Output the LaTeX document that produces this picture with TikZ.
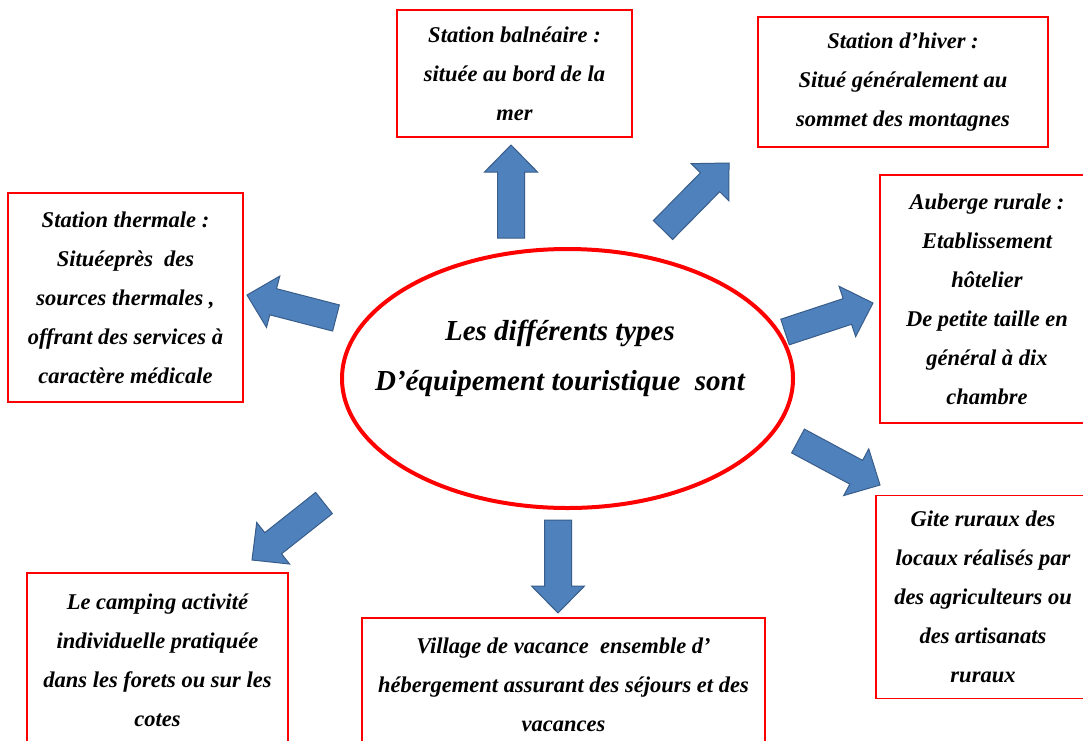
\documentclass[tikz,border=0pt]{standalone}
\usepackage{fontspec}
\setmainfont{Liberation Serif}
\usepackage{tikz}
\usetikzlibrary{calc,shapes.geometric}
\definecolor{BoxRed}{RGB}{255,0,0}
\definecolor{ArrowBlue}{RGB}{79,129,189}
\definecolor{ArrowEdge}{RGB}{56,93,138}

\tikzset{
  typebox/.style={draw=BoxRed,line width=1.5pt,fill=white,align=center,inner sep=0pt,
    font={\fontsize{22.5}{39}\selectfont\bfseries\itshape}},
  fleche/.style={draw=ArrowEdge,fill=ArrowBlue,line width=1pt,line join=miter}
}

% block arrow from tail #1 to tip #2
\newcommand{\flechebloc}[2]{%
  \coordinate (#1-base) at ($(#2)!27pt!(#1)$);
  \draw[fleche] ($(#1)!13.5pt!90:(#2)$) -- ($(#1-base)!13.5pt!90:(#2)$)
    -- ($(#1-base)!26.5pt!90:(#2)$) -- (#2)
    -- ($(#1-base)!26.5pt!-90:(#2)$) -- ($(#1-base)!13.5pt!-90:(#2)$)
    -- ($(#1)!13.5pt!-90:(#2)$) -- cycle;}

\begin{document}
\begin{tikzpicture}[x=1pt,y=-1pt]
  \useasboundingbox (0,0) rectangle (1083,740);
  \fill[white] (0,0) rectangle (1083,740);
  \clip (0,0) rectangle (1083,740);

  % centre
  \node[ellipse,draw=BoxRed,line width=4pt,minimum width=451pt,minimum height=259pt,
        inner sep=0pt] (centre) at (567.5,378.5) {};
  \node[align=center,font={\fontsize{29}{50}\selectfont\bfseries\itshape}] (titre) at (560,358) {%
    Les différents types\\
    D’équipement touristique~ sont};

  % boxes
  \node[typebox,minimum width=235pt,minimum height=127pt] (balneaire) at (514.5,73.5) {%
    Station balnéaire :\\située au bord de la\\mer};
  \node[typebox,minimum width=290pt,minimum height=130pt] (hiver) at (903,82) {%
    Station d’hiver :\\Situé généralement au\\sommet des montagnes};
  \node[typebox,minimum width=214pt,minimum height=248pt] (auberge) at (987,299) {%
    Auberge rurale :\\Etablissement\\hôtelier\\De petite taille en\\général à dix\\chambre};
  \node[typebox,minimum width=235pt,minimum height=209pt] (thermale) at (125.5,297.5) {%
    Station thermale :\\Situéeprès~ des\\sources thermales ,\\offrant des services à\\caractère médicale};
  \node[typebox,minimum width=214pt,minimum height=203pt] (gite) at (983,597) {%
    Gite ruraux des\\locaux réalisés par\\des agriculteurs ou\\des artisanats\\ruraux};
  \node[typebox,minimum width=261pt,minimum height=174pt] (camping) at (157.5,660) {%
    Le camping activité\\individuelle pratiquée\\dans les forets ou sur les\\cotes};
  \node[typebox,minimum width=403pt,minimum height=134pt] (village) at (563.5,685) {%
    Village de vacance~ ensemble d’\\hébergement assurant des séjours et des\\vacances};

  % arrows
  \coordinate (a-balneaire) at (511,238);  \coordinate (p-balneaire) at (511,145);
  \coordinate (a-hiver)     at (663,230);  \coordinate (p-hiver)     at (729,163);
  \coordinate (a-thermale)  at (336,318);  \coordinate (p-thermale)  at (247,295);
  \coordinate (a-auberge)   at (785,332);  \coordinate (p-auberge)   at (873,303);
  \coordinate (a-gite)      at (798,441);  \coordinate (p-gite)      at (880,485);
  \coordinate (a-village)   at (558,520);  \coordinate (p-village)   at (558,613);
  \coordinate (a-camping)   at (324,503);  \coordinate (p-camping)   at (252,560);
  \flechebloc{a-balneaire}{p-balneaire}
  \flechebloc{a-hiver}{p-hiver}
  \flechebloc{a-thermale}{p-thermale}
  \flechebloc{a-auberge}{p-auberge}
  \flechebloc{a-gite}{p-gite}
  \flechebloc{a-village}{p-village}
  \flechebloc{a-camping}{p-camping}
\end{tikzpicture}
\end{document}
